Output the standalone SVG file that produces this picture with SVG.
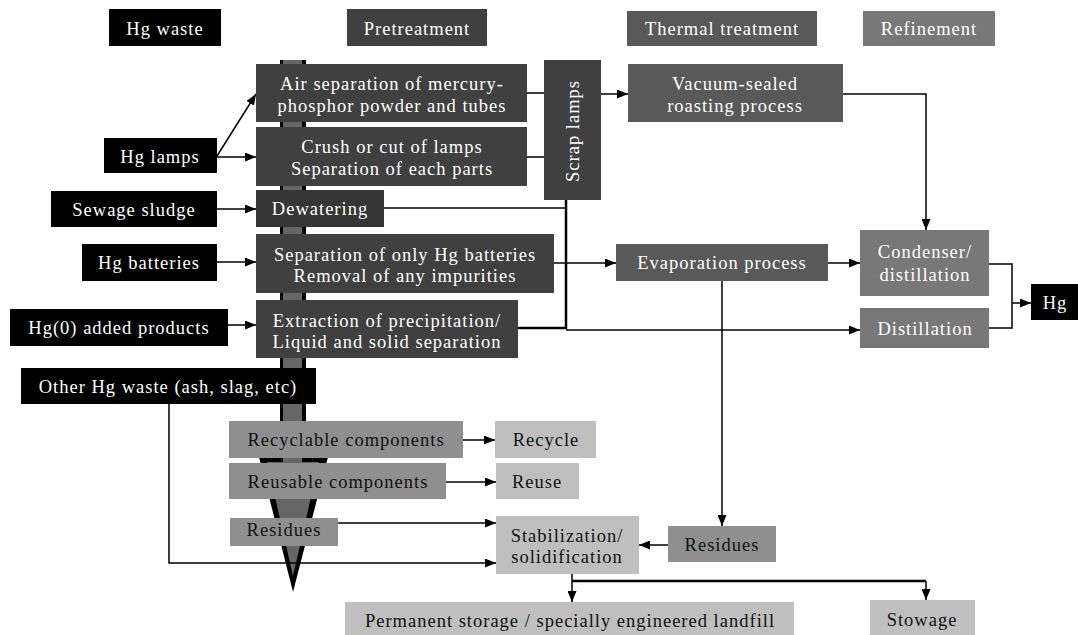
<svg xmlns="http://www.w3.org/2000/svg" width="1078" height="635" viewBox="0 0 1078 635">
<defs>
<marker id="ah" markerWidth="11" markerHeight="9" refX="11" refY="4.5" orient="auto" markerUnits="userSpaceOnUse"><path d="M0,0 L11,4.5 L0,9 z" fill="#000"/></marker>
<style>
text{font-family:"Liberation Serif","Times New Roman",serif;font-size:18.5px;letter-spacing:1px;text-anchor:middle}
.w{fill:#fff}.k{fill:#111}
.c0{fill:#000}.c1{fill:#404040}.c1d{fill:#363636}.c2{fill:#595959}.c3{fill:#787878}.c4{fill:#8f8f8f}.c5{fill:#bfbfbf}
.ln{fill:none;stroke:#000;stroke-width:1.5}
.th{fill:none;stroke:#000;stroke-width:2.5}
.ar{marker-end:url(#ah)}
</style>
</defs>
<rect width="1078" height="635" fill="#fff"/>
<g id="flow-arrow">
<polygon points="259,457 328,457 293,592" fill="#000"/>
<rect x="280" y="60" width="26" height="401" fill="#000"/>
<rect x="283" y="60" width="19" height="403" fill="#666"/>
<polygon points="267,462 319,462 293,576" fill="#666"/>
</g>
<g id="headers">
<g id="h-waste"><rect class="c0" x="109" y="9" width="112" height="37"/><text class="w" x="165" y="35">Hg waste</text></g>
<g id="h-pre"><rect class="c1" x="347" y="9" width="140" height="37"/><text class="w" x="417" y="35">Pretreatment</text></g>
<g id="h-thermal"><rect class="c2" x="627" y="11" width="190" height="35"/><text class="w" x="722" y="35">Thermal treatment</text></g>
<g id="h-ref"><rect class="c3" x="863" y="11" width="132" height="35"/><text class="w" x="929" y="35">Refinement</text></g>
</g>
<g id="connectors">
<path class="ln ar" d="M217,156 L256,94"/>
<path class="ln ar" d="M217,157 L256,157"/>
<path class="ln ar" d="M217,209 L256,209"/>
<path class="ln ar" d="M217,262 L256,262"/>
<path class="ln ar" d="M228,325 L256,325"/>
<path class="ln" d="M527,93 L544,93"/>
<path class="ln" d="M527,157 L544,157"/>
<path class="ln ar" d="M601,94 L628,94"/>
<path class="ln ar" d="M843,94 L926,94 L926,230"/>
<path class="ln" d="M384,208 L566,208"/>
<path class="th" d="M566,200 L566,328 L518,328"/>
<path class="ln ar" d="M566,330 L860,330"/>
<path class="ln ar" d="M554,263 L616,263"/>
<path class="ln ar" d="M828,263 L860,263"/>
<path class="ln ar" d="M722,281 L722,526"/>
<path class="ln" d="M989,264 L1012,264 L1012,328 L989,328"/>
<path class="ln ar" d="M1012,303 L1031,303"/>
<path class="ln ar" d="M338,523 L496,523"/>
<path class="ln ar" d="M169,404 L169,563 L496,563"/>
<path class="ln ar" d="M463,440 L495,440"/>
<path class="ln ar" d="M446,482 L496,482"/>
<path class="ln ar" d="M668,545 L639,545"/>
<path class="ln ar" d="M572,574 L572,602"/>
<path class="th" d="M572,581 L926,581"/>
<path class="ln ar" d="M926,581 L926,600"/>
</g>
<g id="n-lamps"><rect class="c0" x="104" y="138" width="113" height="35"/><text class="w" x="160" y="163">Hg lamps</text></g>
<g id="n-sludge"><rect class="c0" x="51" y="191" width="166" height="36"/><text class="w" x="134" y="216">Sewage sludge</text></g>
<g id="n-batteries"><rect class="c0" x="82" y="244" width="135" height="37"/><text class="w" x="149" y="269">Hg batteries</text></g>
<g id="n-hg0"><rect class="c0" x="10" y="309" width="218" height="37"/><text class="w" x="119" y="334">Hg(0) added products</text></g>
<g id="n-other"><rect class="c0" x="21" y="368" width="295" height="36"/><text class="w" x="168" y="393">Other Hg waste (ash, slag, etc)</text></g>
<g id="n-airsep"><rect class="c1" x="256" y="64" width="271" height="58"/><text class="w" x="392" y="90">Air separation of mercury-</text><text class="w" x="392" y="112">phosphor powder and tubes</text></g>
<g id="n-crush"><rect class="c1" x="256" y="127" width="271" height="59"/><text class="w" x="392" y="153">Crush or cut of lamps</text><text class="w" x="392" y="175">Separation of each parts</text></g>
<g id="n-dewater"><rect class="c1d" x="256" y="190" width="128" height="37"/><text class="w" x="320" y="215">Dewatering</text></g>
<g id="n-sepbat"><rect class="c1" x="256" y="234" width="298" height="59"/><text class="w" x="405" y="261">Separation of only Hg batteries</text><text class="w" x="405" y="282">Removal of any impurities</text></g>
<g id="n-extract"><rect class="c1" x="256" y="300" width="262" height="58"/><text class="w" x="387" y="327">Extraction of precipitation/</text><text class="w" x="387" y="348">Liquid and solid separation</text></g>
<g id="n-scrap"><rect class="c1" x="544" y="60" width="57" height="140"/><text class="w" transform="translate(573,131) rotate(-90)" x="0" y="6">Scrap lamps</text></g>
<g id="n-vacuum"><rect class="c2" x="628" y="64" width="215" height="58"/><text class="w" x="735" y="90">Vacuum-sealed</text><text class="w" x="735" y="112">roasting process</text></g>
<g id="n-evap"><rect class="c2" x="616" y="244" width="212" height="37"/><text class="w" x="722" y="269">Evaporation process</text></g>
<g id="n-condenser"><rect class="c3" x="860" y="230" width="129" height="66"/><text class="w" x="925" y="258">Condenser/</text><text class="w" x="925" y="281">distillation</text></g>
<g id="n-distill"><rect class="c3" x="860" y="308" width="129" height="40"/><text class="w" x="925" y="335">Distillation</text></g>
<g id="n-hg"><rect class="c0" x="1031" y="284" width="47" height="36"/><text class="w" x="1055" y="309">Hg</text></g>
<g id="n-recyclable"><rect class="c4" x="229" y="421" width="234" height="37"/><text class="k" x="346" y="446">Recyclable components</text></g>
<g id="n-recycle"><rect class="c5" x="495" y="421" width="101" height="37"/><text class="k" x="546" y="446">Recycle</text></g>
<g id="n-reusable"><rect class="c4" x="229" y="463" width="217" height="36"/><text class="k" x="338" y="488">Reusable components</text></g>
<g id="n-reuse"><rect class="c5" x="496" y="463" width="83" height="36"/><text class="k" x="537" y="488">Reuse</text></g>
<g id="n-residues1"><rect class="c4" x="230" y="518" width="108" height="28"/><text class="k" x="284" y="536">Residues</text></g>
<g id="n-stab"><rect class="c5" x="496" y="516" width="143" height="58"/><text class="k" x="567" y="542">Stabilization/</text><text class="k" x="567" y="563">solidification</text></g>
<g id="n-residues2"><rect class="c4" x="668" y="526" width="108" height="36"/><text class="k" x="722" y="551">Residues</text></g>
<g id="n-permanent"><rect class="c5" x="345" y="602" width="449" height="36"/><text class="k" x="570" y="627">Permanent storage / specially engineered landfill</text></g>
<g id="n-stowage"><rect class="c5" x="870" y="600" width="105" height="38"/><text class="k" x="922" y="626">Stowage</text></g>
</svg>
